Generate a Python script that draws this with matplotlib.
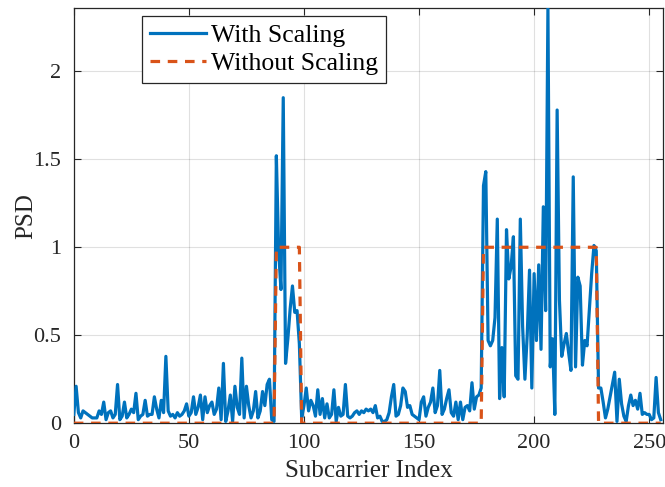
import matplotlib
matplotlib.use("Agg")
import matplotlib.pyplot as plt
import numpy as np

# Power spectral density per subcarrier
subcarrier = np.arange(256)

psd_with_scaling = [
    0.05, 0.21, 0.06, 0.03, 0.07, 0.06, 0.05, 0.04, 0.03, 0.03,
    0.03, 0.07, 0.05, 0.12, 0.02, 0.06, 0.07, 0.03, 0.05, 0.22,
    0.02, 0.04, 0.12, 0.03, 0.05, 0.08, 0.06, 0.17, 0.02, 0.04,
    0.05, 0.13, 0.04, 0.05, 0.05, 0.15, 0.08, 0.03, 0.13, 0.06,
    0.38, 0.07, 0.04, 0.05, 0.03, 0.06, 0.04, 0.05, 0.07, 0.11,
    0.04, 0.06, 0.15, 0.05, 0.09, 0.16, 0.02, 0.15, 0.06, 0.10,
    0.12, 0.05, 0.08, 0.20, 0.02, 0.34, 0.01, 0.07, 0.16, 0.01,
    0.21, 0.09, 0.05, 0.37, 0.03, 0.21, 0.10, 0.03, 0.07, 0.18,
    0.03, 0.07, 0.18, 0.10, 0.22, 0.25, 0.02, 0.01, 1.52, 0.98,
    0.76, 1.85, 0.34, 0.48, 0.65, 0.78, 0.63, 0.64, 0.45, 0.03,
    0.10, 0.20, 0.07, 0.13, 0.10, 0.04, 0.19, 0.05, 0.14, 0.03,
    0.11, 0.03, 0.05, 0.19, 0.01, 0.09, 0.04, 0.05, 0.22, 0.04,
    0.03, 0.04, 0.06, 0.07, 0.05, 0.07, 0.06, 0.08, 0.07, 0.08,
    0.06, 0.10, 0.03, 0.04, 0.01, 0.01, 0.02, 0.06, 0.15, 0.22,
    0.04, 0.05, 0.10, 0.20, 0.18, 0.09, 0.10, 0.05, 0.04, 0.03,
    0.02, 0.12, 0.15, 0.04, 0.09, 0.12, 0.20, 0.06, 0.10, 0.30,
    0.05, 0.08, 0.14, 0.19, 0.06, 0.04, 0.12, 0.02, 0.12, 0.02,
    0.09, 0.10, 0.07, 0.23, 0.08, 0.15, 0.16, 0.20, 1.35, 1.43,
    0.47, 0.44, 0.47, 0.60, 1.16, 0.14, 0.43, 0.15, 1.10, 0.82,
    0.89, 1.06, 0.27, 0.25, 1.16, 0.55, 0.25, 0.50, 0.87, 0.20,
    0.85, 0.47, 0.90, 0.42, 1.23, 0.64, 2.36, 0.32, 0.48, 0.05,
    1.78, 0.70, 0.38, 0.45, 0.51, 0.40, 0.30, 1.40, 0.32, 0.83,
    0.78, 0.33, 0.47, 0.44, 0.65, 0.85, 1.01, 0.98, 0.20, 0.20,
    0.12, 0.03, 0.08, 0.15, 0.22, 0.29, 0.01, 0.25, 0.11, 0.04,
    0.01, 0.10, 0.16, 0.10, 0.13, 0.08, 0.17, 0.05, 0.06, 0.05,
    0.05, 0.02, 0.03, 0.26, 0.06, 0.02,
]

# Flat allocation: unit power on the two occupied bands, zero elsewhere
psd_without_scaling = [0] * 88 + [1] * 11 + [0] * 79 + [1] * 50 + [0] * 28

x_ticks = [0, 50, 100, 150, 200, 250]
y_ticks = [0, 0.5, 1, 1.5, 2]

blue = "#0072BD"
orange = "#D95319"
axis_color = "#262626"

plt.rcParams["font.family"] = ["Liberation Serif", "DejaVu Serif"]

fig = plt.figure(figsize=(6.65, 4.87), dpi=100)
ax = fig.add_axes([0.111, 0.131, 0.886, 0.8526])

ax.plot(subcarrier, psd_with_scaling, color=blue, linewidth=2.3,
        label="With Scaling", zorder=3)
ax.plot(subcarrier, psd_without_scaling, color=orange, linewidth=2.3,
        linestyle=(0, (3.0, 2.4)), label="Without Scaling", zorder=4)

ax.set_xlim(0, 256)
ax.set_ylim(0, max(psd_with_scaling))
ax.set_xticks(x_ticks)
ax.set_yticks(y_ticks)
ax.set_yticklabels(["0", "0.5", "1", "1.5", "2"])

ax.grid(True, color="#000000", alpha=0.12, linewidth=0.8)
ax.set_axisbelow(True)

ax.tick_params(direction="in", top=True, right=True, length=5,
               width=0.8, colors=axis_color, labelsize=16)
ax.tick_params(axis="x", pad=8)
ax.tick_params(axis="y", pad=9)
for spine in ax.spines.values():
    spine.set_color(axis_color)
    spine.set_linewidth(0.9)

ax.set_xlabel("Subcarrier Index", fontsize=18, color=axis_color, labelpad=5)
ax.set_ylabel("PSD", fontsize=18, color=axis_color, labelpad=-3)

leg = ax.legend(loc="upper left", bbox_to_anchor=(0.1155, 0.981),
                borderaxespad=0, fontsize=18.5, handlelength=2.2,
                handletextpad=0.2, borderpad=0.3, labelspacing=0.22,
                fancybox=False, framealpha=1, edgecolor=axis_color)
leg.get_frame().set_linewidth(0.9)
for t in leg.get_texts():
    t.set_color("#000000")

fig.savefig("out.png", dpi=100)
